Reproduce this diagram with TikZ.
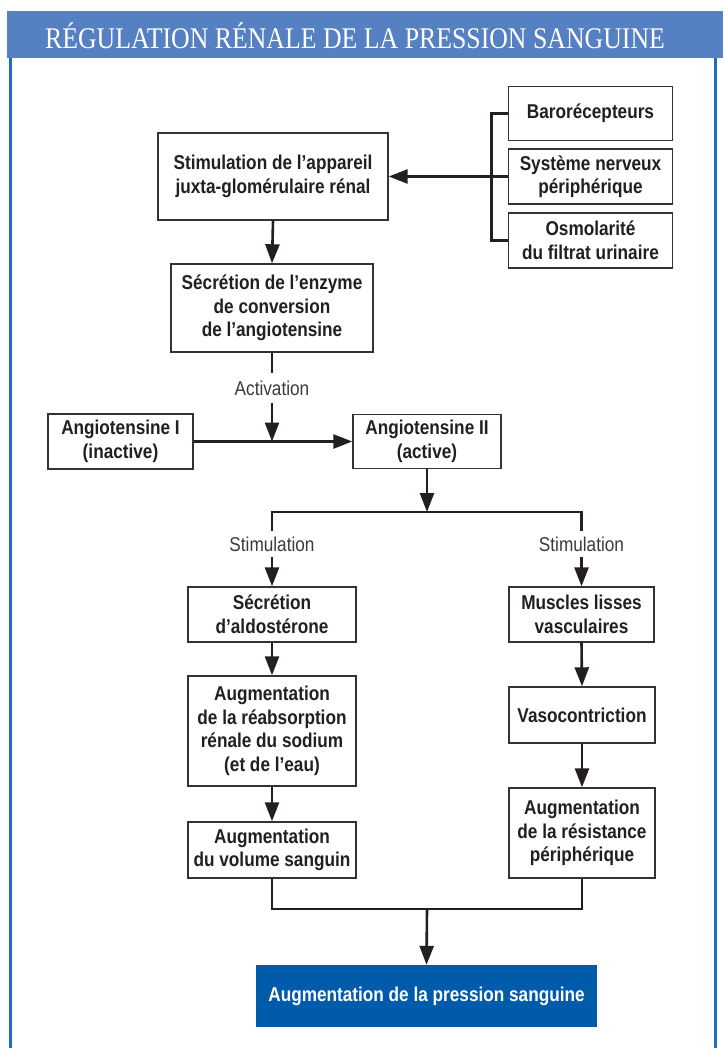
\documentclass[tikz,border=0pt]{standalone}
\usepackage{fontspec}
\setmainfont{Liberation Sans}[FakeStretch=0.86]
\newfontfamily\titlefont{Liberation Serif}[FakeStretch=0.86]
\usetikzlibrary{arrows.meta}
\definecolor{hdrblue}{HTML}{5580C2}
\definecolor{framblue}{HTML}{1F6CC1}
\definecolor{finblue}{HTML}{005BAA}
\definecolor{ink}{HTML}{231F20}
\definecolor{boxline}{HTML}{333333}
\definecolor{lblgray}{HTML}{3A3A3A}
\begin{document}
\begin{tikzpicture}[x=1pt,y=-1pt,
  box/.style={draw=boxline,line width=1.4pt,fill=white,align=center,inner sep=0pt,
    font=\fontsize{20}{23.5}\selectfont\bfseries,text=ink},
  finalbox/.style={fill=finblue,align=center,inner sep=0pt,
    font=\fontsize{20}{23.5}\selectfont\bfseries,text=white},
  lbl/.style={inner sep=0pt,minimum height=26pt,font=\fontsize{20}{22}\selectfont,text=lblgray},
  conn/.style={draw=ink,line width=2.8pt},
  arr/.style={draw=ink,line width=2.6pt,-{Triangle[width=14pt,length=19pt]}}
]
\useasboundingbox (0,0) rectangle (723,1048);
% frame
\fill[hdrblue] (7,11) rectangle (723,58);
\draw[framblue,line width=3pt] (10.5,58) -- (10.5,1048);
\draw[framblue,line width=3pt] (715.5,58) -- (715.5,1048);
\node[text=white,inner sep=0pt,font=\titlefont\fontsize{30}{32}\selectfont] (title) at (355,35.5) {RÉGULATION RÉNALE DE LA PRESSION SANGUINE};
% boxes
\node[box,minimum width=164pt,minimum height=54pt] (baro) at (590.5,113.5) {Barorécepteurs};
\node[box,minimum width=164pt,minimum height=55pt] (sys) at (590.5,176.5) {Système nerveux\\périphérique};
\node[box,minimum width=164pt,minimum height=55pt] (osmo) at (590.5,240.5) {Osmolarité\\du filtrat urinaire};
\node[box,minimum width=230pt,minimum height=87pt] (stim) at (273,176.5) {Stimulation de l’appareil\\juxta-glomérulaire rénal};
\node[box,minimum width=202pt,minimum height=88pt] (secr) at (272,308) {Sécrétion de l’enzyme\\de conversion\\de l’angiotensine};
\node[box,minimum width=145pt,minimum height=55pt] (ang1) at (120.5,441.5) {Angiotensine I\\(inactive)};
\node[box,minimum width=148pt,minimum height=54pt] (ang2) at (427,441.5) {Angiotensine II\\(active)};
\node[box,minimum width=168pt,minimum height=55pt] (aldo) at (272,614.5) {Sécrétion\\d’aldostérone};
\node[box,minimum width=145pt,minimum height=55pt] (musc) at (581.5,614.5) {Muscles lisses\\vasculaires};
\node[box,minimum width=168pt,minimum height=110pt] (reabs) at (272,731) {Augmentation\\de la réabsorption\\rénale du sodium\\(et de l\char"0027 eau)};
\node[box,minimum width=168pt,minimum height=56pt] (vol) at (272,850) {Augmentation\\du volume sanguin};
\node[box,minimum width=146pt,minimum height=56pt] (vaso) at (582,715) {Vasocontriction};
\node[box,minimum width=146pt,minimum height=90pt] (resist) at (582,833) {Augmentation\\de la résistance\\périphérique};
\node[finalbox,minimum width=341pt,minimum height=62pt] (final) at (426.5,996) {Augmentation de la pression sanguine};
% labels
\node[lbl,minimum height=29pt] (act) at (272,388) {Activation};
\node[lbl] (stl) at (272,544) {Stimulation};
\node[lbl] (str) at (581.5,544) {Stimulation};
% connectors
\draw[conn] (baro.west) -- ++(-16,0) |- (osmo.west);
\draw[arr] (sys.west) -- (stim.east);
\draw[arr] (stim.south) -- (secr.north);
\draw[conn] (secr.south) -- (act.north);
\coordinate (j1) at (272,441.5);
\draw[arr] (ang1.east) -- (ang2.west);
\draw[arr] (act.south) -- (j1);
\coordinate (bus) at (427,512);
\draw[arr] (ang2.south) -- (bus);
\draw[conn] (stl.north) |- (bus) -| (str.north);
\draw[arr] (stl.south) -- (aldo.north);
\draw[arr] (str.south) -- (musc.north);
\draw[arr] (aldo.south) -- (reabs.north);
\draw[arr] (reabs.south) -- (vol.north);
\draw[arr] (musc.south) -- (vaso.north);
\draw[arr] (vaso.south) -- (resist.north);
\coordinate (bot) at (427,909);
\draw[conn] (vol.south) |- (bot) -| (resist.south);
\draw[arr] (bot) -- (final.north);
\end{tikzpicture}
\end{document}
